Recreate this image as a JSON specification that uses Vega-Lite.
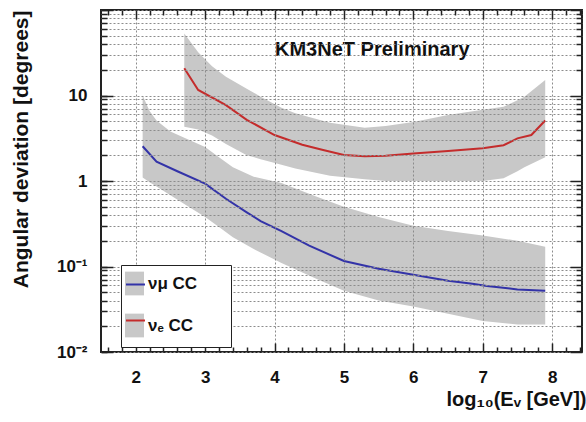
{
  "$schema": "https://vega.github.io/schema/vega-lite/v6.json",
  "width": 481,
  "height": 342,
  "autosize": {"type": "none"},
  "padding": {"left": 101, "top": 10, "right": 4, "bottom": 70},
  "background": "white",
  "title": {
    "text": "KM3NeT Preliminary",
    "anchor": "start",
    "frame": "group",
    "fontSize": 20,
    "fontWeight": "bold",
    "font": "Liberation Sans",
    "color": "#111",
    "offset": 0,
    "baseline": "alphabetic",
    "dx": 174,
    "dy": 75
  },
  "config": {
    "font": "Liberation Sans",
    "view": {"stroke": "#222", "strokeWidth": 2}
  },
  "datasets": {
    "band": [
      {"series": "numu", "E": 2.1, "lo": 1.1, "hi": 10},
      {"series": "numu", "E": 2.2, "lo": 0.97, "hi": 6.6},
      {"series": "numu", "E": 2.3, "lo": 0.86, "hi": 5.1},
      {"series": "numu", "E": 2.5, "lo": 0.68, "hi": 3.8},
      {"series": "numu", "E": 2.7, "lo": 0.54, "hi": 3.2},
      {"series": "numu", "E": 3.0, "lo": 0.38, "hi": 2.5},
      {"series": "numu", "E": 3.2, "lo": 0.29, "hi": 1.9},
      {"series": "numu", "E": 3.4, "lo": 0.22, "hi": 1.45},
      {"series": "numu", "E": 3.7, "lo": 0.16, "hi": 1.12},
      {"series": "numu", "E": 4.1, "lo": 0.11, "hi": 0.95},
      {"series": "numu", "E": 4.6, "lo": 0.072, "hi": 0.66},
      {"series": "numu", "E": 5.0, "lo": 0.052, "hi": 0.5},
      {"series": "numu", "E": 5.5, "lo": 0.04, "hi": 0.38},
      {"series": "numu", "E": 6.0, "lo": 0.034, "hi": 0.3},
      {"series": "numu", "E": 6.5, "lo": 0.028, "hi": 0.26},
      {"series": "numu", "E": 7.0, "lo": 0.023, "hi": 0.23},
      {"series": "numu", "E": 7.5, "lo": 0.021, "hi": 0.2},
      {"series": "numu", "E": 7.9, "lo": 0.021, "hi": 0.17},
      {"series": "nue", "E": 2.7, "lo": 4.3, "hi": 53},
      {"series": "nue", "E": 2.9, "lo": 4.0, "hi": 32},
      {"series": "nue", "E": 3.1, "lo": 3.4, "hi": 22},
      {"series": "nue", "E": 3.3, "lo": 2.7, "hi": 16.6},
      {"series": "nue", "E": 3.6, "lo": 2.0, "hi": 12},
      {"series": "nue", "E": 3.8, "lo": 1.8, "hi": 9.7},
      {"series": "nue", "E": 4.1, "lo": 1.55, "hi": 7.2},
      {"series": "nue", "E": 4.3, "lo": 1.4, "hi": 6.2},
      {"series": "nue", "E": 4.8, "lo": 1.15, "hi": 4.8},
      {"series": "nue", "E": 5.3, "lo": 1.05, "hi": 4.2},
      {"series": "nue", "E": 5.6, "lo": 1.0, "hi": 4.4},
      {"series": "nue", "E": 6.0, "lo": 1.0, "hi": 4.9},
      {"series": "nue", "E": 6.5, "lo": 1.0, "hi": 5.9},
      {"series": "nue", "E": 7.0, "lo": 1.0, "hi": 6.8},
      {"series": "nue", "E": 7.3, "lo": 1.08, "hi": 7.4},
      {"series": "nue", "E": 7.5, "lo": 1.3, "hi": 8.8},
      {"series": "nue", "E": 7.6, "lo": 1.45, "hi": 9.7},
      {"series": "nue", "E": 7.9, "lo": 1.9, "hi": 15.2}
    ],
    "line": [
      {"series": "numu", "E": 2.1, "val": 2.55},
      {"series": "numu", "E": 2.3, "val": 1.68},
      {"series": "numu", "E": 2.6, "val": 1.3},
      {"series": "numu", "E": 3.0, "val": 0.93},
      {"series": "numu", "E": 3.3, "val": 0.62},
      {"series": "numu", "E": 3.6, "val": 0.43},
      {"series": "numu", "E": 3.8, "val": 0.34},
      {"series": "numu", "E": 4.1, "val": 0.26},
      {"series": "numu", "E": 4.5, "val": 0.175},
      {"series": "numu", "E": 5.0, "val": 0.116},
      {"series": "numu", "E": 5.5, "val": 0.094},
      {"series": "numu", "E": 6.0, "val": 0.08},
      {"series": "numu", "E": 6.5, "val": 0.068},
      {"series": "numu", "E": 6.85, "val": 0.063},
      {"series": "numu", "E": 7.06, "val": 0.059},
      {"series": "numu", "E": 7.5, "val": 0.054},
      {"series": "numu", "E": 7.9, "val": 0.052},
      {"series": "nue", "E": 2.7, "val": 20.8},
      {"series": "nue", "E": 2.9, "val": 11.6},
      {"series": "nue", "E": 3.3, "val": 7.7},
      {"series": "nue", "E": 3.6, "val": 5.2},
      {"series": "nue", "E": 4.0, "val": 3.45},
      {"series": "nue", "E": 4.4, "val": 2.65},
      {"series": "nue", "E": 4.7, "val": 2.3},
      {"series": "nue", "E": 5.0, "val": 2.02},
      {"series": "nue", "E": 5.3, "val": 1.95},
      {"series": "nue", "E": 5.6, "val": 1.98},
      {"series": "nue", "E": 6.0, "val": 2.1},
      {"series": "nue", "E": 6.5, "val": 2.25},
      {"series": "nue", "E": 7.0, "val": 2.42},
      {"series": "nue", "E": 7.3, "val": 2.62},
      {"series": "nue", "E": 7.5, "val": 3.15},
      {"series": "nue", "E": 7.7, "val": 3.45},
      {"series": "nue", "E": 7.9, "val": 5.1}
    ]
  },
  "layer": [
    {
      "data": {"name": "line"},
      "mark": {"type": "point", "opacity": 0},
      "encoding": {
        "x": {
          "field": "E", "type": "quantitative",
          "scale": {"domain": [1.5, 8.43], "nice": false, "zero": false},
          "axis": {
            "orient": "bottom",
            "values": [1.6,1.8,2.2,2.4,2.6,2.8,3.2,3.4,3.6,3.8,4.2,4.4,4.6,4.8,5.2,5.4,5.6,5.8,6.2,6.4,6.6,6.8,7.2,7.4,7.6,7.8,8.2,8.4],
            "labels": false, "domain": false, "grid": false, "title": null,
            "tickColor": "#222", "tickWidth": 1.5, "tickSize": -5,
            "zindex": 1
          }
        },
        "y": {
          "field": "val", "type": "quantitative",
          "scale": {"type": "log", "domain": [0.01, 100], "nice": false},
          "axis": {
            "orient": "left",
            "values": [0.01,0.02,0.03,0.04,0.05,0.06,0.07,0.08,0.09,0.1,0.2,0.3,0.4,0.5,0.6,0.7,0.8,0.9,1,2,3,4,5,6,7,8,9,10,20,30,40,50,60,70,80,90,100],
            "labels": false, "domain": false, "title": null,
            "grid": true, "gridDash": [2, 2], "gridColor": "#8c8c8c", "gridWidth": 1,
            "tickColor": "#222", "tickWidth": 1.5, "tickSize": -6,
            "zindex": 1
          }
        }
      }
    },
    {
      "data": {"name": "line"},
      "mark": {"type": "point", "opacity": 0},
      "encoding": {
        "x": {
          "field": "E", "type": "quantitative",
          "axis": {
            "orient": "top",
            "values": [1.6,1.8,2.2,2.4,2.6,2.8,3.2,3.4,3.6,3.8,4.2,4.4,4.6,4.8,5.2,5.4,5.6,5.8,6.2,6.4,6.6,6.8,7.2,7.4,7.6,7.8,8.2,8.4],
            "labels": false, "domain": false, "grid": false, "title": null,
            "tickColor": "#222", "tickWidth": 1.5, "tickSize": -5,
            "zindex": 1
          }
        },
        "y": {
          "field": "val", "type": "quantitative",
          "axis": {
            "orient": "right",
            "values": [0.02,0.03,0.04,0.05,0.06,0.07,0.08,0.09,0.2,0.3,0.4,0.5,0.6,0.7,0.8,0.9,2,3,4,5,6,7,8,9,20,30,40,50,60,70,80,90],
            "labels": false, "domain": false, "grid": false, "title": null,
            "tickColor": "#222", "tickWidth": 1.5, "tickSize": -6,
            "zindex": 1
          }
        }
      }
    },
    {
      "data": {"name": "band"},
      "mark": {"type": "area", "opacity": 1},
      "encoding": {
        "x": {
          "field": "E", "type": "quantitative",
          "axis": {
            "orient": "bottom",
            "values": [2, 3, 4, 5, 6, 7, 8],
            "labelOverlap": false, "labelFlush": false, "labelBound": false,
            "labelFontSize": 17, "labelFontWeight": "bold", "labelColor": "#111",
            "labelPadding": 26,
            "domain": false,
            "grid": true, "gridDash": [2, 2], "gridColor": "#8c8c8c", "gridWidth": 1,
            "tickColor": "#222", "tickWidth": 1.5, "tickSize": -9,
            "title": "log₁₀(Eᵥ [GeV])",
            "titleFontSize": 20, "titleFontWeight": "bold", "titleColor": "#111",
            "titleAlign": "right", "titleBaseline": "alphabetic",
            "titleX": 485, "titleY": 53,
            "zindex": 1
          }
        },
        "y": {
          "field": "lo", "type": "quantitative",
          "axis": {
            "orient": "left",
            "values": [0.01, 0.1, 1, 10, 100],
            "labelExpr": "datum.value == 10 ? '10' : datum.value == 1 ? '1' : datum.value == 0.1 ? '10⁻¹' : datum.value == 0.01 ? '10⁻²' : ''",
            "labelOverlap": false, "labelFlush": false, "labelBound": false,
            "labelFontSize": 17, "labelFontWeight": "bold", "labelColor": "#111",
            "labelPadding": 26,
            "domain": false, "grid": false,
            "tickColor": "#222", "tickWidth": 1.5, "tickSize": -12,
            "title": "Angular deviation [degrees]",
            "titleFontSize": 21, "titleFontWeight": "bold", "titleColor": "#111",
            "titleAnchor": "end", "titleX": -70,
            "zindex": 1
          }
        },
        "y2": {"field": "hi"},
        "fill": {
          "field": "series", "type": "nominal", "sort": "descending",
          "scale": {"range": ["#c8c8c8", "#c8c8c8"]},
          "legend": {
            "orient": "none", "legendX": 20, "legendY": 255,
            "title": null,
            "symbolType": "M-1,-1.25H1V1.25H-1Z",
            "symbolSize": 361, "symbolStrokeWidth": 0, "symbolOpacity": 1,
            "symbolOffset": -5,
            "labelExpr": "datum.label == 'numu' ? 'νμ CC\u2800\u2800' : 'νₑ CC\u2800\u2800'",
            "labelFontSize": 17, "labelFontWeight": "bold", "labelColor": "#111",
            "labelOffset": 4,
            "rowPadding": 17, "padding": 9,
            "strokeColor": "#222", "fillColor": "white",
            "zindex": 1
          }
        }
      }
    },
    {
      "data": {"name": "line"},
      "mark": {"type": "line", "strokeWidth": 2},
      "encoding": {
        "x": {
          "field": "E", "type": "quantitative",
          "axis": {
            "orient": "top",
            "values": [2, 3, 4, 5, 6, 7, 8],
            "labels": false, "domain": false, "grid": false, "title": null,
            "tickColor": "#222", "tickWidth": 1.5, "tickSize": -9,
            "zindex": 1
          }
        },
        "y": {
          "field": "val", "type": "quantitative",
          "axis": {
            "orient": "right",
            "values": [0.01, 0.1, 1, 10, 100],
            "labels": false, "domain": false, "grid": false, "title": null,
            "tickColor": "#222", "tickWidth": 1.5, "tickSize": -12,
            "zindex": 1
          }
        },
        "stroke": {
          "field": "series", "type": "nominal", "sort": "descending",
          "scale": {"range": ["#3333a8", "#c42c2c"]},
          "legend": {
            "orient": "none", "legendX": 20, "legendY": 255,
            "title": null,
            "symbolType": "stroke",
            "symbolSize": 361, "symbolStrokeWidth": 2,
            "symbolOffset": -5,
            "labelExpr": "''",
            "labelFontSize": 17, "labelFontWeight": "bold",
            "labelOffset": 4,
            "rowPadding": 17, "padding": 9,
            "zindex": 2
          }
        }
      }
    }
  ],
  "resolve": {"axis": {"x": "independent", "y": "independent"}}
}
